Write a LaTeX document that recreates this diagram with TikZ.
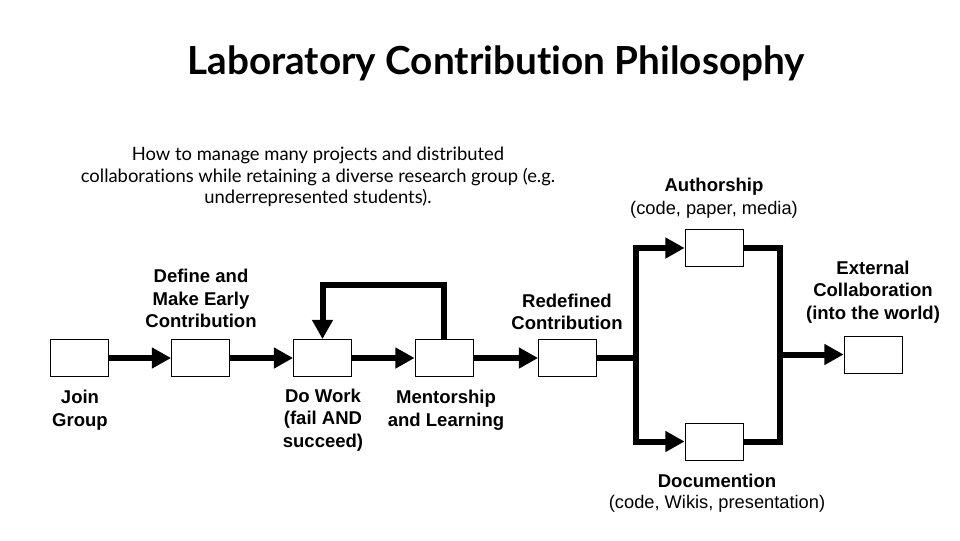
\documentclass[tikz,border=0pt]{standalone}
\usepackage{fontspec}
\setmainfont{Liberation Sans}
\newfontfamily\latofont[Ligatures=NoCommon]{Lato}
\usetikzlibrary{arrows.meta}
\begin{document}
\begin{tikzpicture}[x=0.75pt,y=-0.75pt,
  stagebox/.style={draw=black,line width=0.6pt,fill=white,minimum width=43.5pt,minimum height=27.75pt,inner sep=0pt},
  flow/.style={line width=4.5pt,-{Triangle[length=14.5pt,width=15pt]}},
  plainflow/.style={line width=4.5pt},
  lbl/.style={font=\fontsize{13.9}{16.9}\selectfont\bfseries,align=center,inner sep=0pt},
  sub/.style={font=\fontsize{13.7}{16.9}\selectfont,align=center,inner sep=0pt}]
\useasboundingbox (0,0) rectangle (960,540);
\node[font=\latofont\fontsize{29}{33}\selectfont\bfseries,inner sep=0pt] (title) at (496,63) {Laboratory Contribution Philosophy};
\node[font=\latofont\fontsize{13.8}{16.1}\selectfont,align=center,inner sep=0pt] (intro) at (318,177) {How to manage many projects and distributed\\collaborations while retaining a diverse research group (e.g.\\underrepresented students).};
\node[stagebox] (join) at (79,358) {};
\node[stagebox] (define) at (200.5,358) {};
\node[stagebox] (work) at (322.5,358) {};
\node[stagebox] (ment) at (444,358) {};
\node[stagebox] (redef) at (567.5,358) {};
\node[stagebox] (auth) at (714,248) {};
\node[stagebox] (doc) at (714,441.5) {};
\node[stagebox] (ext) at (873,354.5) {};
\coordinate (bl) at (636,358);
\coordinate (br) at (780,354.5);
\node[lbl] (tjoin) at (80,410) {Join\\Group};
\node[lbl] (tdefine) at (201,298.5) {Define and\\Make Early\\Contribution};
\node[lbl] (twork) at (323,420) {Do Work\\(fail AND\\succeed)};
\node[lbl] (tment) at (446,410) {Mentorship\\and Learning};
\node[lbl] (tredef) at (567,312) {Redefined\\Contribution};
\node[lbl] (text) at (873,292) {External\\Collaboration\\(into the world)};
\node[lbl] (tauth) at (714,186.5) {Authorship};
\node[sub] (tauth2) at (714,210) {(code, paper, media)};
\node[lbl] (tdoc) at (717,481) {Documention};
\node[sub] (tdoc2) at (717,504) {(code, Wikis, presentation)};
\draw[flow] (join) -- (define);
\draw[flow] (define) -- (work);
\draw[flow] (work) -- (ment);
\draw[flow] (ment) -- (redef);
\draw[flow] (ment.north) -- ++(0,-54) -| (work.north);
\draw[plainflow] (redef.east) -- (bl);
\draw[flow] (bl) |- (auth.west);
\draw[flow] (bl) |- (doc.west);
\draw[plainflow] (auth.east) -| (br) |- (doc.east);
\draw[flow] (br) -- (ext.west);
\end{tikzpicture}
\end{document}
